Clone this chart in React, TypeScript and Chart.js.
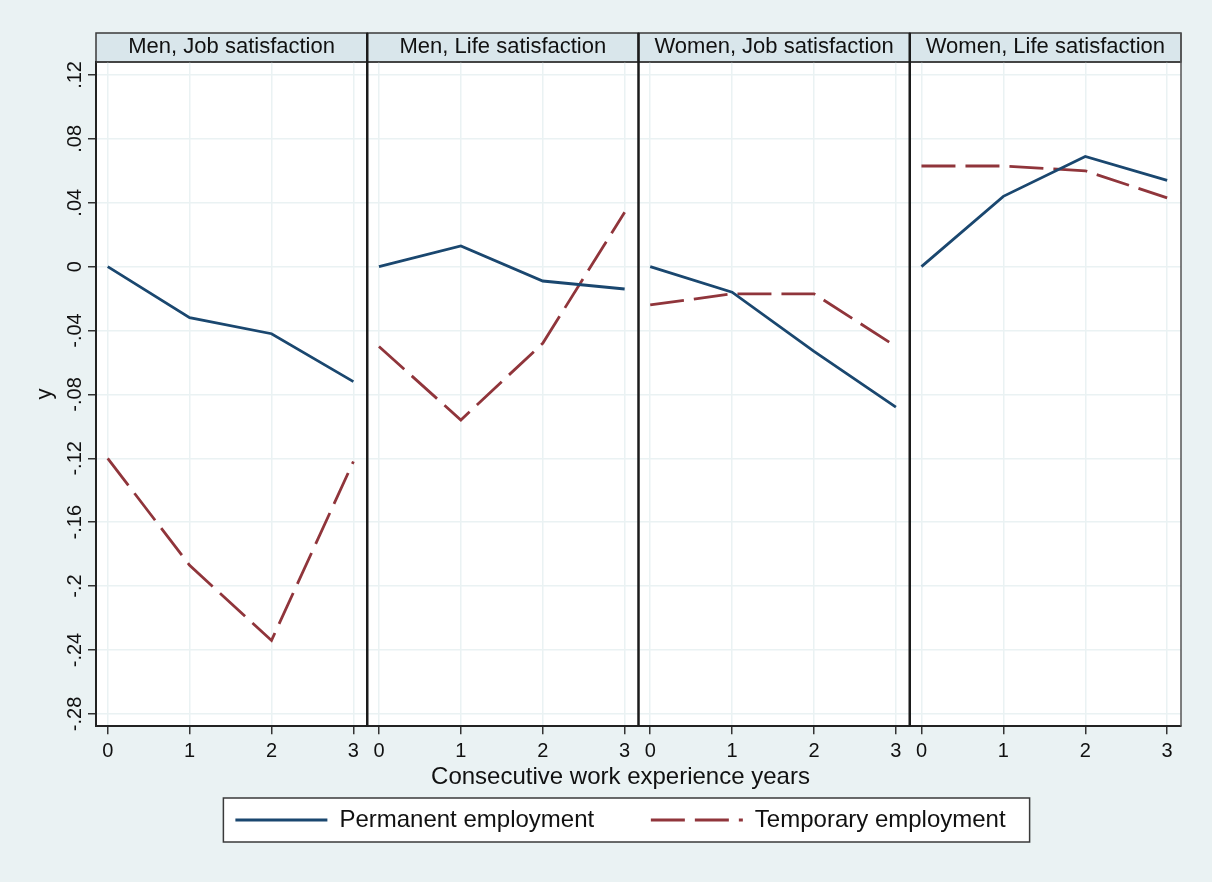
import React, { useEffect, useRef } from 'react';
import { Chart, registerables } from 'chart.js';

Chart.register(...registerables);

// ---------- data ----------
const panels = [
  'Men, Job satisfaction',
  'Men, Life satisfaction',
  'Women, Job satisfaction',
  'Women, Life satisfaction',
];
const years = [0, 1, 2, 3];
const yearLabels = ['0', '1', '2', '3'];
const yTicks = [-0.28, -0.24, -0.2, -0.16, -0.12, -0.08, -0.04, 0, 0.04, 0.08, 0.12];
const yTickLabels = ['-.28', '-.24', '-.2', '-.16', '-.12', '-.08', '-.04', '0', '.04', '.08', '.12'];
const seriesNames = ['Permanent employment', 'Temporary employment'];
const xTitle = 'Consecutive work experience years';
const yTitle = 'y';

const menJobPermanent = [0, -0.032, -0.042, -0.072];
const menJobTemporary = [-0.12, -0.187, -0.234, -0.122];
const menLifePermanent = [0, 0.013, -0.009, -0.014];
const menLifeTemporary = [-0.05, -0.096, -0.048, 0.034];
const womenJobPermanent = [0, -0.016, -0.053, -0.088];
const womenJobTemporary = [-0.024, -0.017, -0.017, -0.05];
const womenLifePermanent = [0, 0.044, 0.069, 0.054];
const womenLifeTemporary = [0.063, 0.063, 0.06, 0.043];

const permanentSeries = [menJobPermanent, menLifePermanent, womenJobPermanent, womenLifePermanent];
const temporarySeries = [menJobTemporary, menLifeTemporary, womenJobTemporary, womenLifeTemporary];

// ---------- style ----------
const FONT = "'Liberation Sans', Arial, Helvetica, sans-serif";
const BG = '#EAF2F3';
const GRID = '#EAF2F3';
const HEADER_FILL = '#D9E6EB';
const NAVY = '#1A476F';
const MAROON = '#90353B';
const TEXT = '#111111';
const LINE_W = 2.8;
const DASH = [34, 10];
const X_MIN = -0.143;
const X_MAX = 3.169;
const Y_MIN = -0.2877;
const Y_MAX = 0.1281;

const panelPlugin = {
  id: 'panelDecor',
  beforeDraw(chart: any) {
    const { ctx, chartArea: ca } = chart;
    ctx.save();
    ctx.fillStyle = '#FFFFFF';
    ctx.fillRect(ca.left, ca.top, ca.right - ca.left, ca.bottom - ca.top);
    panels.forEach((_, p) => {
      const s = chart.scales['xt' + p];
      ctx.fillStyle = HEADER_FILL;
      ctx.fillRect(s.left, s.top, s.right - s.left, s.bottom - s.top);
      ctx.strokeStyle = '#3A3A3A';
      ctx.lineWidth = 1.5;
      ctx.strokeRect(s.left, s.top, s.right - s.left, s.bottom - s.top);
    });
    const lg = chart.legend;
    if (lg && lg.legendHitBoxes && lg.legendHitBoxes.length) {
      const hb = lg.legendHitBoxes;
      const first = hb[0];
      const last = hb[hb.length - 1];
      const left = first.left - 12;
      const right = last.left + last.width + 24;
      ctx.fillStyle = '#FFFFFF';
      ctx.fillRect(left, lg.top, right - left, lg.bottom - lg.top);
      ctx.strokeStyle = '#3A3A3A';
      ctx.lineWidth = 1.5;
      ctx.strokeRect(left, lg.top, right - left, lg.bottom - lg.top);
    }
    ctx.restore();
  },
  afterDatasetsDraw(chart: any) {
    const { ctx, chartArea: ca } = chart;
    const topY = chart.scales['xt0'].top;
    ctx.save();
    ctx.strokeStyle = '#3A3A3A';
    ctx.lineWidth = 1.5;
    ctx.beginPath();
    ctx.moveTo(ca.left, ca.top);
    ctx.lineTo(ca.right, ca.top);
    ctx.stroke();
    ctx.strokeStyle = '#555555';
    ctx.beginPath();
    ctx.moveTo(ca.right, topY);
    ctx.lineTo(ca.right, ca.bottom);
    ctx.stroke();
    ctx.strokeStyle = '#1B1B1B';
    ctx.lineWidth = 2.5;
    for (let p = 1; p < panels.length; p++) {
      const x = chart.scales['x' + p].left;
      ctx.beginPath();
      ctx.moveTo(x, topY);
      ctx.lineTo(x, ca.bottom);
      ctx.stroke();
    }
    ctx.restore();
  },
};

export default function App() {
  const ref = useRef<HTMLCanvasElement>(null);

  useEffect(() => {
    const canvas = ref.current;
    if (!canvas) return;
    Chart.defaults.font.family = FONT;
    Chart.defaults.color = TEXT;

    const datasets: any[] = [];
    permanentSeries.forEach((vals, p) => {
      datasets.push({
        label: seriesNames[0],
        data: years.map((x, i) => ({ x, y: vals[i] })),
        xAxisID: 'x' + p,
        yAxisID: 'y',
        borderColor: NAVY,
        backgroundColor: NAVY,
        borderWidth: LINE_W,
        borderDash: [],
        pointRadius: 0,
        tension: 0,
        fill: false,
      });
    });
    temporarySeries.forEach((vals, p) => {
      datasets.push({
        label: seriesNames[1],
        data: years.map((x, i) => ({ x, y: vals[i] })),
        xAxisID: 'x' + p,
        yAxisID: 'y',
        borderColor: MAROON,
        backgroundColor: MAROON,
        borderWidth: LINE_W,
        borderDash: DASH,
        pointRadius: 0,
        tension: 0,
        fill: false,
      });
    });

    const scales: any = {};
    panels.forEach((_, p) => {
      scales['x' + p] = {
        type: 'linear',
        position: 'bottom',
        stack: 'panelsBottom',
        stackWeight: 1,
        min: X_MIN,
        max: X_MAX,
        afterBuildTicks: (s: any) => {
          s.ticks = years.map((v) => ({ value: v }));
        },
        afterFit: (s: any) => {
          s.height = 37;
        },
        ticks: {
          font: { size: 20 },
          color: TEXT,
          padding: 5,
          autoSkip: false,
          minRotation: 0,
          maxRotation: 0,
          callback: (_v: any, i: number) => yearLabels[i],
        },
        grid: {
          color: GRID,
          lineWidth: 1.5,
          drawTicks: true,
          tickLength: 8,
          tickColor: '#333333',
          tickWidth: 1.5,
        },
        border: { display: true, color: '#222222', width: 2 },
      };
    });
    // top stack is laid out in reverse key order, so add the header axes last-to-first
    for (let p = panels.length - 1; p >= 0; p--) {
      scales['xt' + p] = {
        type: 'linear',
        position: 'top',
        stack: 'panelsTop',
        stackWeight: 1,
        min: 0,
        max: 1,
        afterFit: (s: any) => {
          s.height = 29;
        },
        ticks: { display: false },
        grid: { display: false, drawTicks: false },
        border: { display: false },
        title: {
          display: true,
          text: panels[p],
          font: { size: 22 },
          color: TEXT,
          padding: { top: 1, bottom: 0 },
        },
      };
    }
    scales.y = {
      type: 'linear',
      position: 'left',
      min: Y_MIN,
      max: Y_MAX,
      afterBuildTicks: (s: any) => {
        s.ticks = yTicks.map((v) => ({ value: v }));
      },
      afterFit: (s: any) => {
        s.width = 67;
      },
      ticks: {
        font: { size: 20 },
        color: TEXT,
        padding: -5,
        autoSkip: false,
        minRotation: 90,
        maxRotation: 90,
        crossAlign: 'center',
        callback: (_v: any, i: number) => yTickLabels[i],
      },
      grid: {
        color: GRID,
        lineWidth: 1.5,
        drawTicks: true,
        tickLength: 8,
        tickColor: '#333333',
        tickWidth: 1.5,
      },
      border: { display: true, color: '#222222', width: 2 },
      title: {
        display: true,
        text: yTitle,
        font: { size: 22 },
        color: TEXT,
        padding: { top: 3, bottom: 0 },
      },
    };
    scales.yr = {
      type: 'linear',
      position: 'right',
      afterFit: (s: any) => {
        s.width = 31;
      },
      ticks: { display: false },
      grid: { display: false, drawTicks: false },
      border: { display: false },
    };

    const chart = new Chart(canvas, {
      type: 'line',
      data: { datasets },
      options: {
        responsive: false,
        animation: false,
        events: [],
        layout: { padding: { left: 29, right: 0, top: 33, bottom: 40 } },
        scales,
        plugins: {
          tooltip: { enabled: false },
          title: {
            display: true,
            position: 'bottom',
            text: xTitle,
            font: { size: 24, weight: 'normal' },
            color: TEXT,
            padding: { top: 0, bottom: 6 },
            weight: 500,
            fullSize: true,
          },
          legend: {
            display: true,
            position: 'bottom',
            fullSize: true,
            labels: {
              font: { size: 24 },
              color: TEXT,
              usePointStyle: true,
              pointStyle: 'line',
              pointStyleWidth: 92,
              padding: 10,
              generateLabels: (c: any) => {
                const items = Chart.defaults.plugins.legend.labels
                  .generateLabels(c)
                  .filter((it: any) => it.datasetIndex === 0 || it.datasetIndex === panels.length);
                items.forEach((it: any) => {
                  const ds = c.data.datasets[it.datasetIndex];
                  it.lineDash = ds.borderDash;
                  it.lineWidth = ds.borderWidth;
                  it.strokeStyle = ds.borderColor;
                  it.lineDashOffset = 0;
                });
                if (items.length) items[0].text = items[0].text + '       ';
                return items;
              },
            },
          },
        },
      } as any,
      plugins: [panelPlugin],
    });

    return () => {
      chart.destroy();
    };
  }, []);

  return (
    <div
      style={{
        position: 'fixed',
        left: 0,
        top: 0,
        width: 1212,
        height: 882,
        background: BG,
        overflow: 'hidden',
      }}
    >
      <canvas ref={ref} width={1212} height={882} style={{ display: 'block', width: 1212, height: 882 }} />
    </div>
  );
}
